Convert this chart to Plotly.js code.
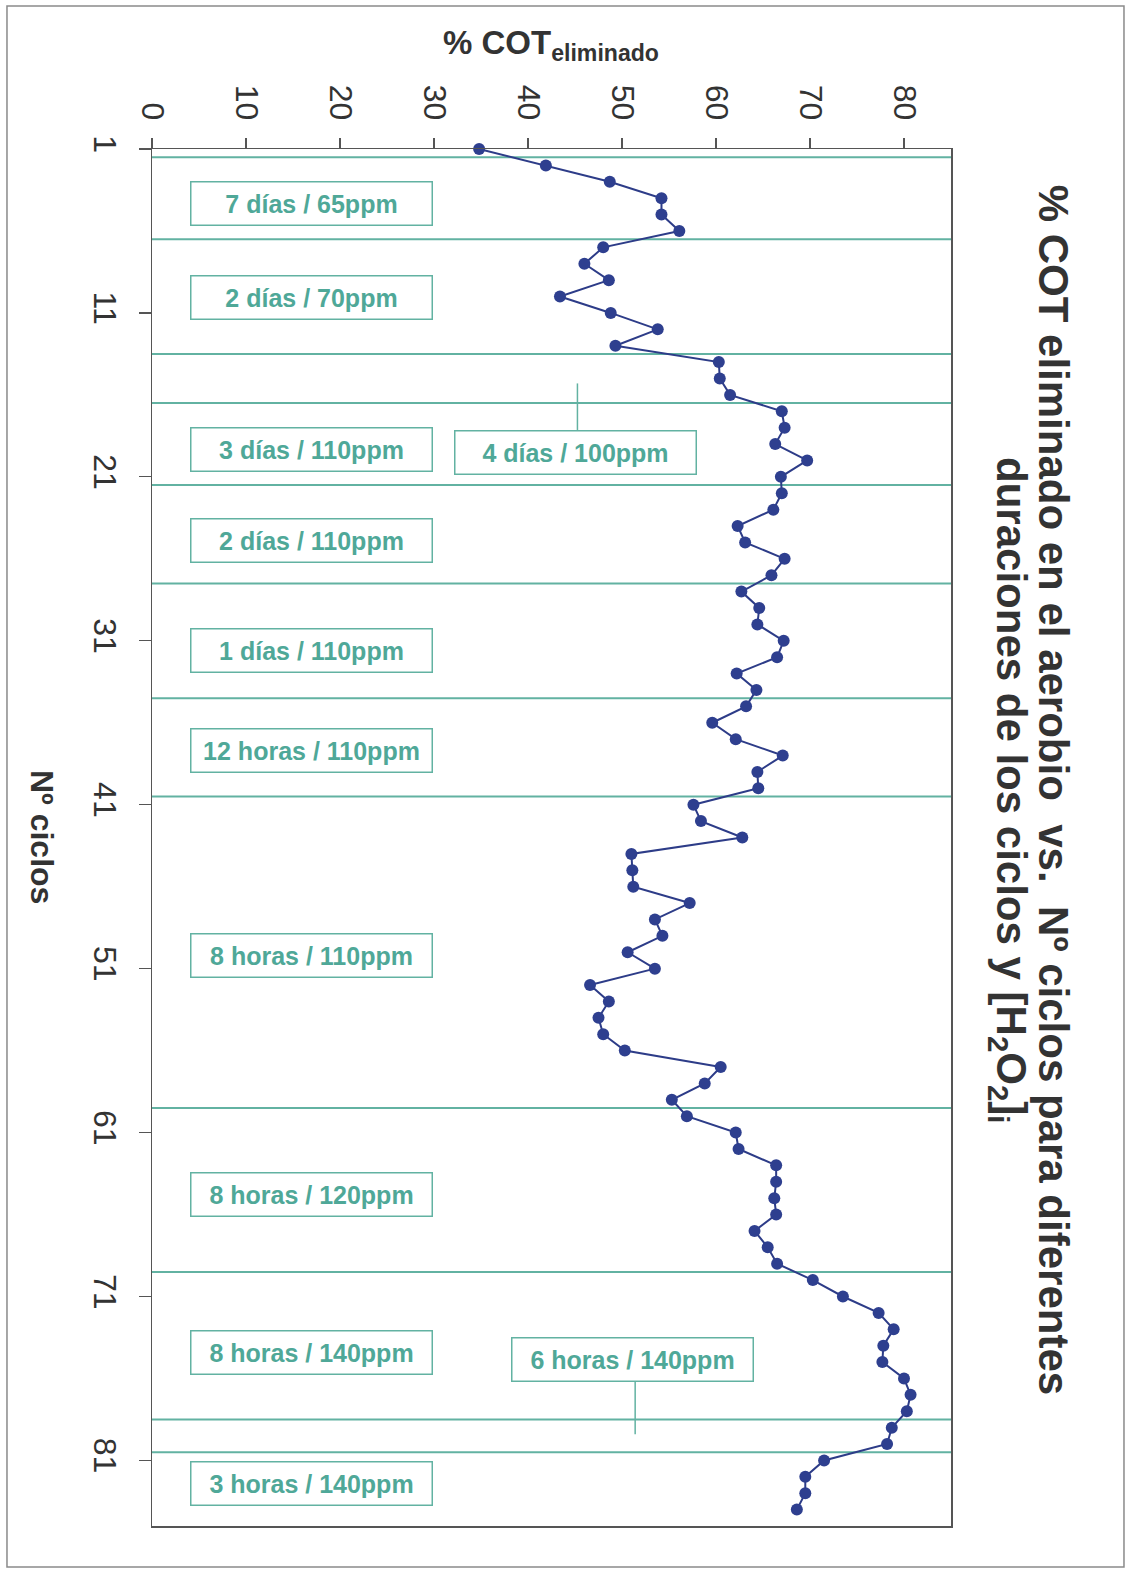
<!DOCTYPE html>
<html>
<head>
<meta charset="utf-8">
<script src="https://cdn.plot.ly/plotly-3.0.1.min.js"></script>
<style>
  html, body { margin: 0; padding: 0; background: #ffffff; }
  #chart { width: 1127px; height: 1570px; }
</style>
</head>
<body>
<div id="chart"></div>
<script>
// ---- data ----
const cycles = [1,2,3,4,5,6,7,8,9,10,11,12,13,14,15,16,17,18,19,20,
  21,22,23,24,25,26,27,28,29,30,31,32,33,34,35,36,37,38,39,40,
  41,42,43,44,45,46,47,48,49,50,51,52,53,54,55,56,57,58,59,60,
  61,62,63,64,65,66,67,68,69,70,71,72,73,74,75,76,77,78,79,80,
  81,82,83,84];
const cotRemoved = [34.8,41.9,48.7,54.2,54.2,56.1,48.0,46.0,48.6,43.4,
  48.8,53.8,49.3,60.3,60.4,61.5,67.0,67.3,66.3,69.7,
  66.9,67.0,66.1,62.3,63.1,67.3,65.9,62.7,64.6,64.4,
  67.2,66.5,62.2,64.3,63.2,59.6,62.1,67.1,64.4,64.5,
  57.6,58.4,62.8,51.0,51.1,51.2,57.2,53.5,54.3,50.6,
  53.5,46.6,48.6,47.5,48.0,50.3,60.5,58.8,55.3,56.9,
  62.1,62.4,66.4,66.4,66.2,66.4,64.1,65.5,66.5,70.3,
  73.5,77.3,78.9,77.8,77.7,80.0,80.7,80.3,78.7,78.2,
  71.5,69.5,69.5,68.6];
const phaseBoundaries = [1.5, 6.5, 13.5, 16.5, 21.5, 27.5, 34.5, 40.5, 59.5, 69.5, 78.5, 80.5];
const phaseLabels = ["7 días / 65ppm", "2 días / 70ppm", "3 días / 110ppm", "4 días / 100ppm",
  "2 días / 110ppm", "1 días / 110ppm", "12 horas / 110ppm", "8 horas / 110ppm",
  "8 horas / 120ppm", "8 horas / 140ppm", "6 horas / 140ppm", "3 horas / 140ppm"];
const xTickVals = [0,10,20,30,40,50,60,70,80];
const yTickVals = [1,11,21,31,41,51,61,71,81];
const titleLine1 = "% COT eliminado en el aerobio\u00a0\u00a0vs.\u00a0\u00a0Nº ciclos para diferentes";
const titleLine2 = "duraciones de los ciclos y [H<sub>2</sub>O<sub>2</sub>]<sub>i</sub>";
const xTitle = "% COT<sub>eliminado</sub>";
const yTitle = "Nº ciclos";

// ---- layout helpers (positions / styles) ----
const FONT = "Liberation Sans, Arial, sans-serif";
const TEAL_LINE = "#62b2a2";
const TEAL_TEXT = "#4fa898";
// label box placement: [x (value), y (cycle)]
const labelPos = [[17,4.3],[17,10.06],[17,19.36],[45.0,19.5],[17,24.86],[17,31.6],
  [17,37.7],[17,50.2],[17,64.76],[17,74.4],[51.1,74.86],[17,82.4]];

const shapes = phaseBoundaries.map(b => ({
  type: 'line', xref: 'x', yref: 'y', x0: 0, x1: 85, y0: b, y1: b,
  line: {color: TEAL_LINE, width: 2}, layer: 'below'
}));
// connector lines for the two side labels
shapes.push({type:'line', xref:'x', yref:'y', x0:45.26, x1:45.26, y0:15.3, y1:18.14,
  line:{color: TEAL_LINE, width: 1.5}});
shapes.push({type:'line', xref:'x', yref:'y', x0:51.4, x1:51.4, y0:76.17, y1:79.4,
  line:{color: TEAL_LINE, width: 1.5}});
// outer frame
shapes.push({type:'rect', xref:'paper', yref:'paper', x0:-0.1815, x1:1.2165, y0:-0.0298, y1:1.1038,
  line:{color:'#8a8a8a', width:1.5}, fillcolor:'rgba(0,0,0,0)'});

const annotations = phaseLabels.map((t, i) => ({
  text: t, xref: 'x', yref: 'y', x: labelPos[i][0], y: labelPos[i][1],
  showarrow: false, xanchor: 'center', yanchor: 'middle',
  width: 236, height: 38, borderpad: 2, borderwidth: 1.5,
  bordercolor: TEAL_LINE, bgcolor: '#ffffff',
  font: {family: FONT, size: 25, color: TEAL_TEXT, weight: 700}
}));
annotations.push({text: titleLine1, xref:'paper', yref:'paper', x:1.128, y:0.5345,
  xanchor:'center', yanchor:'middle', textangle:90, showarrow:false,
  font:{family: FONT, size: 42, color:'#333333', weight:700}});
annotations.push({text: titleLine2, xref:'paper', yref:'paper', x:1.0713, y:0.5345,
  xanchor:'center', yanchor:'middle', textangle:90, showarrow:false,
  font:{family: FONT, size: 42, color:'#333333', weight:700}});
annotations.push({text: xTitle, xref:'paper', yref:'paper', x:0.4994, y:1.0755,
  xanchor:'center', yanchor:'middle', showarrow:false,
  font:{family: FONT, size: 33, color:'#333333', weight:700}});
annotations.push({text: yTitle, xref:'paper', yref:'paper', x:-0.1377, y:0.5004,
  xanchor:'center', yanchor:'middle', textangle:90, showarrow:false,
  font:{family: FONT, size: 32, color:'#333333', weight:700}});

const trace = {
  x: cotRemoved, y: cycles, type: 'scatter', mode: 'lines+markers',
  line: {color: '#2d3c88', width: 2},
  marker: {color: '#2e3f8f', size: 12},
  cliponaxis: false, hoverinfo: 'x+y'
};

const layout = {
  width: 1127, height: 1570,
  margin: {l: 152, r: 176, t: 149, b: 44},
  paper_bgcolor: '#ffffff', plot_bgcolor: '#ffffff',
  showlegend: false,
  font: {family: FONT, color: '#333333'},
  xaxis: {
    side: 'top', range: [0, 85], tickvals: xTickVals, tickangle: 90,
    ticks: 'outside', ticklen: 10, tickcolor: '#555', tickwidth: 1.2,
    showline: true, mirror: true, linecolor: '#555', linewidth: 1.5,
    showgrid: false, zeroline: false,
    tickfont: {family: FONT, size: 32, color: '#333'}, ticklabelstandoff: 6
  },
  yaxis: {
    range: [85, 1], tickvals: yTickVals, tickangle: 90,
    ticks: 'outside', ticklen: 12, tickcolor: '#555', tickwidth: 1.2,
    showline: true, mirror: true, linecolor: '#555', linewidth: 1.5,
    showgrid: false, zeroline: false,
    tickfont: {family: FONT, size: 32, color: '#333'}, ticklabelstandoff: 6
  },
  shapes: shapes,
  annotations: annotations
};

Plotly.newPlot('chart', [trace], layout, {displayModeBar: false, staticPlot: true});
</script>
</body>
</html>
